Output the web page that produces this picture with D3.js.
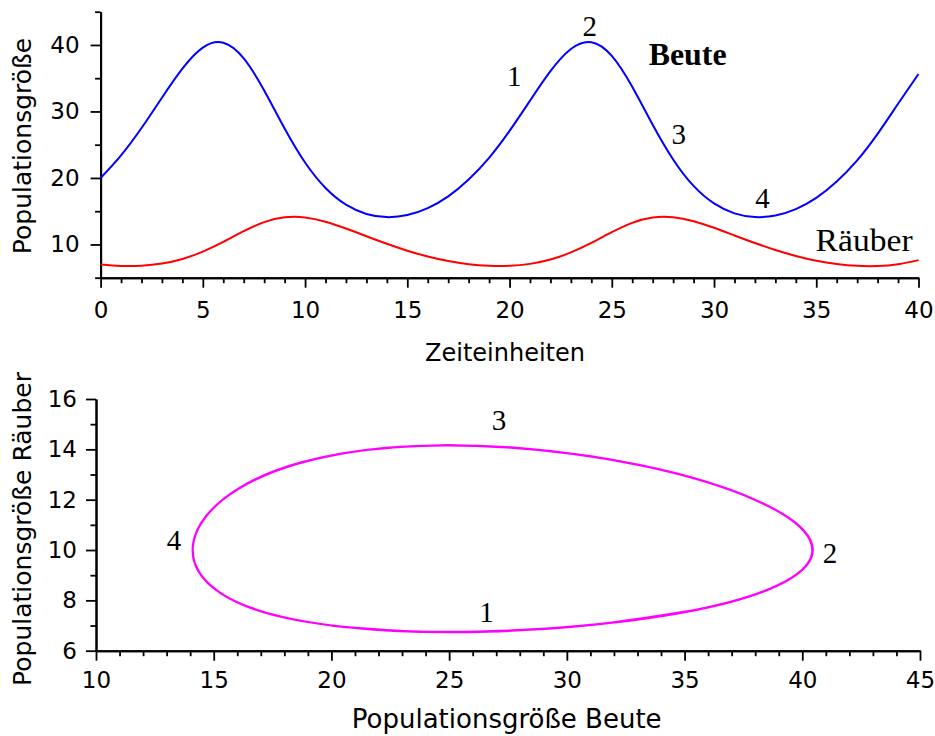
<!DOCTYPE html>
<html>
<head>
<meta charset="utf-8">
<script src="https://cdn.jsdelivr.net/npm/d3@7"></script>
<style>
  body { margin: 0; background: #fff; }
  .axis text { font-family: "DejaVu Sans", sans-serif; fill: #000; }
  .axis path, .axis line { stroke: #000; }
  .note { font-family: "Liberation Serif", "DejaVu Serif", serif; fill: #000; }
</style>
</head>
<body>
<svg id="chart" width="935" height="736"></svg>
<script>
// Räuber-Beute-Modell: Populationen über der Zeit
const time = [0, 1, 2, 3, 4, 5, 6, 7, 8, 9, 10, 11, 12, 13, 14, 15, 16, 17, 18, 19, 20,
              21, 22, 23, 24, 25, 26, 27, 28, 29, 30, 31, 32, 33, 34, 35, 36, 37, 38, 39, 40];
const prey = [20.00, 23.40, 27.51, 32.07, 36.44, 39.60, 40.33, 37.98, 33.16, 27.44, 22.32,
              18.49, 15.98, 14.59, 14.11, 14.42, 15.46, 17.23, 19.77, 23.02, 27.07,
              31.61, 36.05, 39.38, 40.41, 38.36, 33.71, 28.00, 22.78, 18.80, 16.17,
              14.68, 14.12, 14.35, 15.32, 17.01, 19.47, 22.64, 26.63, 31.15, 35.63];
const predator = [7.00, 6.77, 6.80, 7.13, 7.82, 8.93, 10.39, 12.00, 13.36, 14.08, 14.06,
                  13.41, 12.39, 11.24, 10.10, 9.06, 8.19, 7.51, 7.03, 6.78, 6.78,
                  7.08, 7.73, 8.80, 10.23, 11.84, 13.25, 14.05, 14.09, 13.50, 12.51,
                  11.35, 10.21, 9.16, 8.27, 7.56, 7.07, 6.79, 6.76, 7.03, 7.64];

// Achsen
const timeTicks = [0, 5, 10, 15, 20, 25, 30, 35, 40];
const timeMinor = [1, 2, 3, 4, 6, 7, 8, 9, 11, 12, 13, 14, 16, 17, 18, 19, 21, 22, 23, 24,
                   26, 27, 28, 29, 31, 32, 33, 34, 36, 37, 38, 39];
const popTicks = [10, 20, 30, 40];
const popMinor = [5, 15, 25, 35, 45];
const preyTicks = [10, 15, 20, 25, 30, 35, 40, 45];
const preyMinor = [11, 12, 13, 14, 16, 17, 18, 19, 21, 22, 23, 24, 26, 27, 28, 29,
                   31, 32, 33, 34, 36, 37, 38, 39, 41, 42, 43, 44];
const predTicks = [6, 8, 10, 12, 14, 16];
const predMinor = [7, 9, 11, 13, 15];

// Beschriftungen im Zeitverlauf (Zeit, Population)
const timeNotes = [
  { text: "1", t: 20.23, v: 33.76 },
  { text: "2", t: 23.92, v: 41.41 },
  { text: "3", t: 28.27, v: 25.06 },
  { text: "4", t: 32.37, v: 15.46 }
];
const seriesNames = [
  { text: "Beute", t: 28.71, v: 37.06, bold: true, len: 78 },
  { text: "Räuber", t: 37.34, v: 9.05, bold: false, len: 97 }
];
// Beschriftungen im Phasendiagramm (Beute, Räuber)
const phaseNotes = [
  { text: "1", x: 26.59, y: 7.15 },
  { text: "2", x: 41.18, y: 9.47 },
  { text: "3", x: 27.12, y: 14.77 },
  { text: "4", x: 13.31, y: 9.99 }
];

const svg = d3.select("#chart");
const tickFont = 23;

function styleAxis(g) {
  g.selectAll("path").attr("stroke-width", 2);
  g.selectAll("line").attr("stroke-width", 1.8);
  g.selectAll("text").attr("font-size", tickFont);
}

function drawAxes(xs, ys, xMajor, xMinor, yMajor, yMinor, xPad, yPad) {
  const y0 = ys.range()[0], x0 = xs.range()[0];
  const gx = svg.append("g").attr("class", "axis").attr("transform", `translate(0,${y0})`);
  gx.append("g").call(d3.axisBottom(xs).tickValues(xMinor).tickSize(5.5).tickSizeOuter(0).tickFormat(""));
  gx.append("g").call(d3.axisBottom(xs).tickValues(xMajor).tickSize(10).tickSizeOuter(0).tickPadding(xPad));
  styleAxis(gx);
  const gy = svg.append("g").attr("class", "axis").attr("transform", `translate(${x0},0)`);
  gy.append("g").call(d3.axisLeft(ys).tickValues(yMinor).tickSize(5.5).tickSizeOuter(0).tickFormat(""));
  gy.append("g").call(d3.axisLeft(ys).tickValues(yMajor).tickSize(10).tickSizeOuter(0).tickPadding(yPad));
  styleAxis(gy);
}

// ---------- oben: Populationen über der Zeit ----------
const xT = d3.scaleLinear().domain([0, 40]).range([100.6, 918.5]);
const yT = d3.scaleLinear().domain([5, 45]).range([277.7, 11.7]);
drawAxes(xT, yT, timeTicks, timeMinor, popTicks, popMinor, 14, 11);

const lineT = (vals) => d3.line()
  .x((d, i) => xT(time[i]))
  .y((d) => yT(d))
  .curve(d3.curveNatural)(vals);

svg.append("path").attr("d", lineT(prey))
  .attr("fill", "none").attr("stroke", "#0000ff").attr("stroke-width", 2);
svg.append("path").attr("d", lineT(predator))
  .attr("fill", "none").attr("stroke", "#ff0000").attr("stroke-width", 2);

svg.selectAll("text.tnote").data(timeNotes).join("text")
  .attr("class", "note tnote")
  .attr("x", d => xT(d.t)).attr("y", d => yT(d.v))
  .attr("text-anchor", "middle").attr("font-size", 29)
  .text(d => d.text);

svg.selectAll("text.sname").data(seriesNames).join("text")
  .attr("class", "note sname")
  .attr("x", d => xT(d.t)).attr("y", d => yT(d.v))
  .attr("text-anchor", "middle").attr("font-size", 31)
  .attr("font-weight", d => d.bold ? "bold" : "normal")
  .attr("textLength", d => d.len).attr("lengthAdjust", "spacingAndGlyphs")
  .text(d => d.text);

svg.append("text").attr("class", "axis")
  .attr("x", 505).attr("y", 361).attr("text-anchor", "middle")
  .attr("font-family", "DejaVu Sans").attr("font-size", 24)
  .text("Zeiteinheiten");
svg.append("text")
  .attr("transform", "translate(31,146) rotate(-90)").attr("text-anchor", "middle")
  .attr("font-family", "DejaVu Sans").attr("font-size", 25)
  .text("Populationsgröße");

// ---------- unten: Phasendiagramm (Beute gegen Räuber, gleiche Zeitpunkte) ----------
const xP = d3.scaleLinear().domain([10, 45]).range([96, 920]);
const yP = d3.scaleLinear().domain([6, 16]).range([650.7, 399]);
drawAxes(xP, yP, preyTicks, preyMinor, predTicks, predMinor, 11.3, 9);

// natürlicher Spline über den Zeitindex, wie im Zeitverlauf oben
const phaseLine = d3.line()
  .x((d, i) => xP(prey[i]))
  .y((d, i) => yP(predator[i]))
  .curve(d3.curveNatural);
svg.append("path").attr("d", phaseLine(time))
  .attr("fill", "none").attr("stroke", "#ff00ff").attr("stroke-width", 2.2);

svg.selectAll("text.pnote").data(phaseNotes).join("text")
  .attr("class", "note pnote")
  .attr("x", d => xP(d.x)).attr("y", d => yP(d.y))
  .attr("text-anchor", "middle").attr("font-size", 29)
  .text(d => d.text);

svg.append("text")
  .attr("x", 506.7).attr("y", 728).attr("text-anchor", "middle")
  .attr("font-family", "DejaVu Sans").attr("font-size", 26)
  .text("Populationsgröße Beute");
svg.append("text")
  .attr("transform", "translate(31,529) rotate(-90)").attr("text-anchor", "middle")
  .attr("font-family", "DejaVu Sans").attr("font-size", 25)
  .text("Populationsgröße Räuber");
</script>
</body>
</html>
